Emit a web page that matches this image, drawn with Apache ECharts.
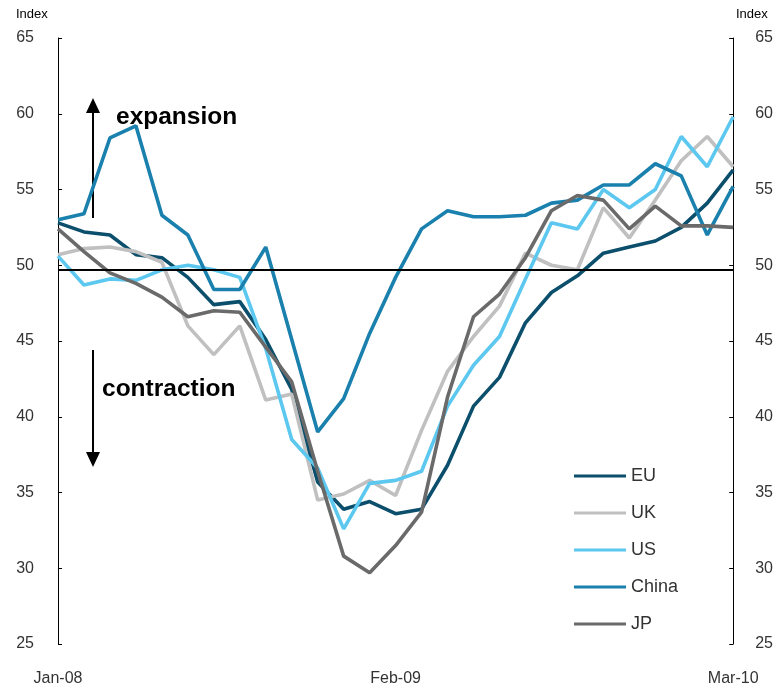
<!DOCTYPE html>
<html>
<head>
<meta charset="utf-8">
<script src="https://cdn.jsdelivr.net/npm/echarts@6/dist/echarts.min.js"></script>
<style>
html,body{margin:0;padding:0;background:#fff;}
#chart{width:776px;height:690px;}
</style>
</head>
<body>
<div id="chart"></div>
<script>
const months = ['Jan-08','Feb-08','Mar-08','Apr-08','May-08','Jun-08','Jul-08','Aug-08','Sep-08','Oct-08','Nov-08','Dec-08',
  'Jan-09','Feb-09','Mar-09','Apr-09','May-09','Jun-09','Jul-09','Aug-09','Sep-09','Oct-09','Nov-09','Dec-09',
  'Jan-10','Feb-10','Mar-10'];
const eu    = [52.8,52.2,52.0,50.7,50.5,49.2,47.4,47.6,45.1,41.8,35.7,33.9,34.4,33.6,33.9,36.8,40.7,42.6,46.2,48.2,49.3,50.8,51.2,51.6,52.5,54.1,56.3];
const uk    = [50.7,51.1,51.2,50.9,50.2,46.0,44.1,46.0,41.1,41.5,34.5,34.9,35.8,34.8,39.1,43.0,45.3,47.3,50.8,50.0,49.7,53.8,51.8,54.3,56.9,58.5,56.5];
const us    = [50.6,48.7,49.1,49.0,49.7,50.0,49.7,49.2,44.5,38.5,36.6,32.6,35.6,35.8,36.4,40.7,43.4,45.3,49.1,52.8,52.4,55.0,53.8,55.0,58.5,56.5,59.8];
const china = [53.0,53.4,58.4,59.2,53.3,52.0,48.4,48.4,51.2,45.1,39.0,41.2,45.5,49.2,52.4,53.6,53.2,53.2,53.3,54.1,54.3,55.3,55.3,56.7,55.9,52.0,55.2];
const jp    = [52.4,50.9,49.5,48.8,47.9,46.6,47.0,46.9,44.6,42.3,36.4,30.8,29.7,31.5,33.7,41.3,46.6,48.1,50.5,53.6,54.6,54.3,52.4,53.9,52.6,52.6,52.5];
const seriesNames = ['EU','UK','US','China','JP'];
const seriesColors = ['#0b4f6c','#c0c0c0','#5cc8f0','#1a80ad','#6a6a6a'];
const seriesData = [eu, uk, us, china, jp];
const refLevel = 49.7;

const chart = echarts.init(document.getElementById('chart'));
const font = 'Liberation Sans, Arial, sans-serif';

const series = seriesNames.map((n, i) => ({
  name: n,
  type: 'line',
  data: seriesData[i],
  symbol: 'none',
  smooth: false,
  lineStyle: { width: 3.6, color: seriesColors[i] },
  itemStyle: { color: seriesColors[i] },
  z: 3
}));
series[0].markLine = {
  silent: true,
  symbol: ['none','none'],
  label: { show: false },
  lineStyle: { color: '#000', width: 2, type: 'solid' },
  data: [{ yAxis: refLevel }],
  z: 5
};

const yCommon = {
  type: 'value', min: 25, max: 65, interval: 5,
  axisLine: { show: true, lineStyle: { color: '#000', width: 1 } },
  axisTick: { show: true, inside: true, length: 4, lineStyle: { color: '#000' } },
  splitLine: { show: false },
  axisLabel: { fontSize: 16, color: '#333', fontFamily: font }
};

chart.setOption({
  animation: false,
  backgroundColor: '#fff',
  grid: { left: 58, right: 39, top: 38, bottom: 46, containLabel: false },
  xAxis: {
    type: 'category', data: months, boundaryGap: false,
    axisLine: { show: false }, axisTick: { show: false },
    axisLabel: { interval: 12, fontSize: 16, color: '#333', fontFamily: font, margin: 27 }
  },
  yAxis: [
    Object.assign({}, yCommon, { position: 'left', axisLabel: Object.assign({}, yCommon.axisLabel, { margin: 24 }) }),
    Object.assign({}, yCommon, { position: 'right', axisLabel: Object.assign({}, yCommon.axisLabel, { margin: 22 }) })
  ],
  legend: {
    orient: 'vertical', left: 574, top: 467, padding: 0,
    icon: 'rect', itemWidth: 52, itemHeight: 3, itemGap: 19,
    textStyle: { fontSize: 18, color: '#333', fontFamily: font },
    data: seriesNames
  },
  graphic: [
    { type: 'text', left: 16, top: 8, style: { text: 'Index', fontSize: 13, fill: '#000', fontFamily: font } },
    { type: 'text', left: 736, top: 8, style: { text: 'Index', fontSize: 13, fill: '#000', fontFamily: font } },
    { type: 'line', shape: { x1: 93, y1: 218, x2: 93, y2: 110 }, style: { stroke: '#000', lineWidth: 2 } },
    { type: 'polygon', shape: { points: [[86,113],[100,113],[93,98]] }, style: { fill: '#000' } },
    { type: 'line', shape: { x1: 93, y1: 350, x2: 93, y2: 455 }, style: { stroke: '#000', lineWidth: 2 } },
    { type: 'polygon', shape: { points: [[86,452],[100,452],[93,467]] }, style: { fill: '#000' } },
    { type: 'text', left: 116, top: 105, style: { text: 'expansion', fontSize: 24.5, fontWeight: 'bold', fill: '#000', fontFamily: font } },
    { type: 'text', left: 102, top: 377, style: { text: 'contraction', fontSize: 24.5, fontWeight: 'bold', fill: '#000', fontFamily: font } }
  ],
  series: series
});
</script>
</body>
</html>
